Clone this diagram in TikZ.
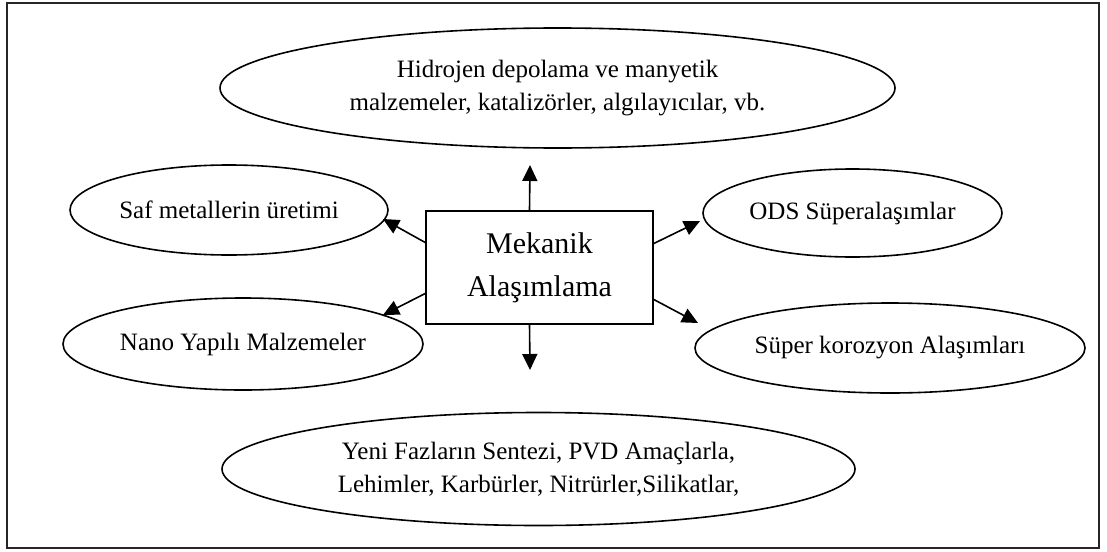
\documentclass[tikz,border=0pt]{standalone}
\usepackage{fontspec}
\setmainfont{Liberation Serif}
\usetikzlibrary{arrows.meta,shapes.geometric}

\begin{document}
\begin{tikzpicture}[
  x=1pt, y=-1pt,
  oval/.style={draw, ellipse, line width=1.6pt, inner sep=0pt, align=center, font=\fontsize{25}{33}\selectfont},
  core/.style={draw, line width=1.6pt, inner sep=0pt, minimum width=227pt, minimum height=113pt, align=center, font=\fontsize{30}{43}\selectfont},
  arr/.style={-{Triangle[length=16pt,width=15pt]}, line width=1.6pt}
]
\useasboundingbox (0,0) rectangle (1107,551);
\node[draw=black!85, line width=1.5pt, inner sep=0pt, minimum width=1092pt, minimum height=545pt] (frame) at (553,275.5) {};

\node[core] (ma) at (539.5,267.5) {Mekanik\\Alaşımlama};

\node[oval, minimum width=675pt, minimum height=120pt] (hid) at (557.5,88) {Hidrojen depolama ve manyetik\\malzemeler, katalizörler, algılayıcılar, vb.};
\node[oval, minimum width=318pt, minimum height=90pt] (saf) at (229,210) {Saf metallerin üretimi};
\node[oval, minimum width=360pt, minimum height=92pt] (nano) at (243,344) {Nano Yapılı Malzemeler};
\node[oval, minimum width=299pt, minimum height=88pt] (ods) at (852.5,213) {ODS Süperalaşımlar};
\node[oval, minimum width=390pt, minimum height=90pt] (kor) at (890,348) {Süper korozyon Alaşımları};
\node[oval, minimum width=633pt, minimum height=113pt] (yeni) at (538.5,469) {Yeni Fazların Sentezi, PVD Amaçlarla,\\Lehimler, Karbürler, Nitrürler,Silikatlar,};

\coordinate (tn) at (530,165);
\coordinate (ts) at (530,370);
\coordinate (tsaf) at (383,219);
\coordinate (tnano) at (383,315);
\coordinate (tods) at (700,221);
\coordinate (tkor) at (698,323);

\draw[arr] ([xshift=-10pt]ma.north) -- (tn);
\draw[arr] ([xshift=-10pt]ma.south) -- (ts);
\draw[arr] ([yshift=25pt]ma.west) -- (tsaf);
\draw[arr] ([yshift=-26pt]ma.west) -- (tnano);
\draw[arr] ([yshift=24pt]ma.east) -- (tods);
\draw[arr] ([yshift=-32pt]ma.east) -- (tkor);
\end{tikzpicture}
\end{document}
